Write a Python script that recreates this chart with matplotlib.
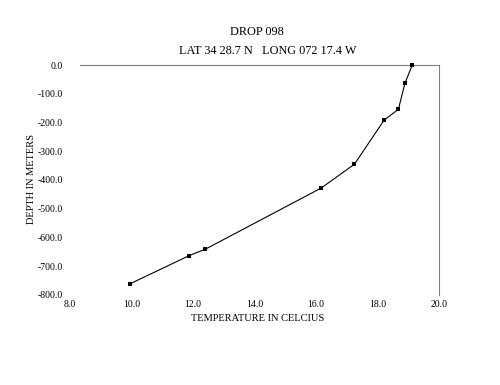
import matplotlib.pyplot as plt
from matplotlib.ticker import FuncFormatter

plt.rcParams['font.family'] = ['Liberation Serif', 'DejaVu Serif']

# data
temperature = [19.13, 18.89, 18.68, 18.22, 17.25, 16.17, 12.40, 11.88, 9.94]
depth = [0, -64, -154, -191, -345, -428, -641, -663, -762]
xticks = [8.0, 10.0, 12.0, 14.0, 16.0, 18.0, 20.0]
yticks = [0, -100, -200, -300, -400, -500, -600, -700, -800]

fig = plt.figure(figsize=(5, 3.85), dpi=100)
ax = fig.add_axes([0.14, 0.234, 0.738, 0.597])

ax.plot(temperature, depth, color='black', linewidth=0.8, clip_on=False, zorder=5,
        marker='s', markersize=2.4, markerfacecolor='black', markeredgewidth=0)

ax.set_xlim(8, 20)
ax.set_ylim(-800, 0)
ax.set_xticks(xticks)
ax.set_yticks(yticks)
ax.xaxis.set_major_formatter(FuncFormatter(lambda v, p: '%.1f' % v))
ax.yaxis.set_major_formatter(FuncFormatter(lambda v, p: '%.1f' % v))
ax.tick_params(length=0, labelsize=7, pad=5)
ax.tick_params(axis='x', pad=4)

for s in ['left', 'bottom']:
    ax.spines[s].set_visible(False)
for s in ['top', 'right']:
    ax.spines[s].set_color('#808080')
    ax.spines[s].set_linewidth(0.8)
ax.spines['top'].set_bounds(8.33, 20)

fig.text(0.514, 0.917, 'DROP 098', ha='center', va='center', fontsize=8.8)
fig.text(0.536, 0.867, 'LAT 34 28.7 N   LONG 072 17.4 W', ha='center', va='center', fontsize=8.8)
fig.text(0.516, 0.174, 'TEMPERATURE IN CELCIUS', ha='center', va='center', fontsize=7.5)
fig.text(0.064, 0.535, 'DEPTH IN METERS', ha='center', va='center', fontsize=7.5, rotation=90)

fig.savefig('out.png', dpi=100)
